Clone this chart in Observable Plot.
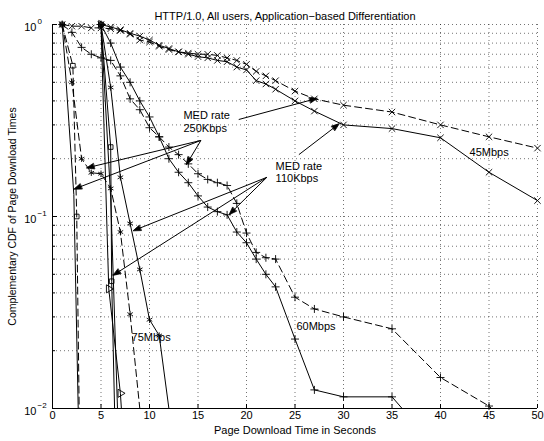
<!DOCTYPE html>
<html><head><meta charset="utf-8">
<script src="https://cdn.jsdelivr.net/npm/d3@7"></script>
<script src="https://cdn.jsdelivr.net/npm/@observablehq/plot@0.6"></script>
<style>html,body{margin:0;padding:0;background:#fff} svg{display:block}</style>
</head><body><div id="chart"></div>
<script>
const title = "HTTP/1.0, All users, Application\u2212based Differentiation";
const xLabel = "Page Download Time in Seconds";
const yLabel = "Complementary CDF of Page Download Times";
const xTicks = [0,5,10,15,20,25,30,35,40,45,50];
const yMajor = [1,0.1,0.01];
const yMajorExp = ["0","\u22121","\u22122"];
const yMinor = [0.02,0.03,0.04,0.05,0.06,0.07,0.08,0.09,0.2,0.3,0.4,0.5,0.6,0.7,0.8,0.9];

// 45 Mbps
const s45_110 = [[5,1],[6,0.97],[7,0.94],[8,0.90],[9,0.87],[10,0.83],[11,0.78],[12,0.75],[13,0.72],[14,0.70],[15,0.68],[16,0.67],[17,0.65],[18,0.64],[19,0.60],[20,0.58],[21,0.51],[22,0.49],[23,0.46],[25,0.40],[27,0.354],[30,0.30],[35,0.287],[40,0.257],[45,0.17],[50,0.121]];
const s45_250 = [[1,1],[2,0.98],[3,0.98],[4,0.96],[5,0.96],[6,0.95],[7,0.93],[8,0.89],[9,0.83],[10,0.81],[11,0.77],[12,0.74],[13,0.72],[14,0.71],[15,0.70],[16,0.70],[17,0.69],[18,0.67],[19,0.65],[20,0.62],[21,0.57],[22,0.54],[23,0.51],[25,0.45],[27,0.41],[30,0.38],[35,0.35],[40,0.30],[45,0.26],[50,0.227]];
// 60 Mbps
const s60_110 = [[5,1],[6,0.8],[7,0.6],[8,0.5],[9,0.4],[10,0.33],[11,0.26],[12,0.2],[13,0.17],[14,0.15],[15,0.128],[16,0.112],[17,0.106],[18,0.102],[19,0.083],[20,0.073],[21,0.06],[22,0.05],[23,0.043],[25,0.023],[27,0.0125],[30,0.0115],[35,0.0115],[37,0.0088]];
const s60_250 = [[1,1],[2,0.91],[3,0.76],[4,0.70],[5,0.67],[6,0.65],[7,0.54],[8,0.41],[9,0.36],[10,0.29],[11,0.26],[12,0.23],[13,0.21],[14,0.188],[15,0.167],[16,0.156],[17,0.15],[18,0.145],[19,0.117],[20,0.082],[21,0.065],[22,0.061],[23,0.06],[25,0.038],[27,0.033],[30,0.03],[35,0.026],[40,0.0145],[45,0.0103],[46,0.0092]];
// 75 Mbps
const s75_110 = [[5,1],[6,0.47],[7,0.16],[8,0.092],[9,0.053],[10,0.029],[11,0.024],[12,0.01]];
const s75_250 = [[1,1],[2,0.5],[3,0.2],[4,0.169],[5,0.167],[6,0.14],[7,0.083],[8,0.031],[9,0.01]];
// fastest links
const sA_110 = [[5,1],[6,0.23],[6.1,0.046],[6.4,0.01]];
const sB_110 = [[5,1],[5.8,0.042],[7,0.012],[7.1,0.01]];
const sC_110 = [[5,1],[6,0.125],[6.7,0.01]];
const sA_250 = [[1,1],[2.2,0.13],[2.65,0.01]];
const sB_250 = [[1,1],[2.1,0.61],[2.5,0.1],[2.75,0.01]];

const series = [
  {id:"45s", data:s45_110, dashed:false, symbol:"times"},
  {id:"45d", data:s45_250, dashed:true,  symbol:"times"},
  {id:"60s", data:s60_110, dashed:false, symbol:"plus"},
  {id:"60d", data:s60_250, dashed:true,  symbol:"plus"},
  {id:"75s", data:s75_110, dashed:false, symbol:"asterisk"},
  {id:"75d", data:s75_250, dashed:true,  symbol:"asterisk"},
  {id:"As",  data:sA_110,  dashed:false, symbol:"square"},
  {id:"Bs",  data:sB_110,  dashed:false, symbol:"triangle"},
  {id:"Cs",  data:sC_110,  dashed:false, symbol:null},
  {id:"Ad",  data:sA_250,  dashed:false, symbol:null},
  {id:"Bd",  data:sB_250,  dashed:true,  symbol:"square"}
];
const rows = series.flatMap(s => s.data.map(([x,y]) => ({id:s.id, x, y, dashed:s.dashed, symbol:s.symbol})));

// annotations
const labels = [
  {text:"MED rate", x:13.5, y:0.336},
  {text:"250Kbps",  x:13.5, y:0.287},
  {text:"MED rate", x:23.0, y:0.182},
  {text:"110Kbps",  x:23.0, y:0.157},
  {text:"45Mbps",   x:43.0, y:0.216},
  {text:"60Mbps",   x:25.15,y:0.0267},
  {text:"75Mbps",   x:8.15, y:0.0234}
];
const arrows = [
  {x1:15.3, y1:0.249, x2:3.7,  y2:0.18},
  {x1:15.3, y1:0.249, x2:2.4,  y2:0.14},
  {x1:15.3, y1:0.249, x2:13.9, y2:0.19},
  {x1:19.2, y1:0.32,  x2:27.1, y2:0.41},
  {x1:22.1, y1:0.16,  x2:18.35,y2:0.104},
  {x1:22.1, y1:0.16,  x2:8.5,  y2:0.085},
  {x1:22.1, y1:0.16,  x2:6.4,  y2:0.05},
  {x1:25.4, y1:0.21,  x2:29.4, y2:0.30}
];

const plotW = 544 - 52 - 7;
const symR = {times:3, plus:2.7, asterisk:3, square:2.6, triangle:3};
const dotMarks = Object.keys(symR).map(sym => Plot.dot(rows.filter(r => r.symbol === sym && r.y > 0.0101), {
  x:"x", y:"y", symbol:sym, r:symR[sym], stroke:"black", fill:"none", strokeWidth:0.9,
  rotate: sym === "triangle" ? 90 : 0
}));

const chart = Plot.plot({
  width:544, height:441,
  marginLeft:52, marginRight:7, marginTop:24, marginBottom:33,
  style:{fontFamily:"'Liberation Sans', Arial, Helvetica, sans-serif", fontSize:"11px", background:"#fff", color:"#000"},
  x:{domain:[0,50]},
  y:{type:"log", domain:[0.01,1], axis:null},
  marks:[
    Plot.gridX(xTicks, {stroke:"#000", strokeOpacity:0.55, strokeDasharray:"1,3"}),
    Plot.gridY(yMajor.concat(yMinor), {stroke:"#000", strokeOpacity:0.55, strokeDasharray:"1,3"}),
    Plot.line(rows.filter(r => !r.dashed), {x:"x", y:"y", z:"id", stroke:"black", strokeWidth:1, clip:true}),
    Plot.line(rows.filter(r => r.dashed), {x:"x", y:"y", z:"id", stroke:"black", strokeWidth:1, strokeDasharray:"7,4", clip:true}),
    ...dotMarks,
    Plot.link(arrows, {x1:"x1", y1:"y1", x2:"x2", y2:"y2", stroke:"black", strokeWidth:1, markerEnd:"arrow"}),
    Plot.text(labels, {x:"x", y:"y", text:"text", textAnchor:"start", fontSize:11}),
    Plot.ruleX([0], {stroke:"black"}),
    Plot.ruleY([0.01], {stroke:"black"}),
    Plot.tickX(xTicks, {x:d=>d, stroke:"black", insetTop:441-24-33-4}),
    Plot.tickY(yMajor, {y:d=>d, stroke:"black", insetRight:plotW-5}),
    Plot.tickY(yMinor, {y:d=>d, stroke:"black", insetRight:plotW-3}),
    Plot.axisX({ticks:xTicks, tickSize:0, tickPadding:3, label:null, fontSize:11}),
    Plot.text(yMajor, {y:d=>d, frameAnchor:"left", text:()=>"10", dx:-16, dy:3, textAnchor:"end", fontSize:11}),
    Plot.text(yMajor, {y:d=>d, frameAnchor:"left", text:(d,i)=>yMajorExp[i], dx:-15, dy:-3, textAnchor:"start", fontSize:8}),
    Plot.text([title], {frameAnchor:"top", dx:-10, dy:-12, fontSize:11}),
    Plot.text([xLabel], {frameAnchor:"bottom", dy:25, fontSize:11}),
    Plot.text([yLabel], {frameAnchor:"left", dx:-40, rotate:-90, textAnchor:"middle", fontSize:10.5})
  ]
});
document.getElementById("chart").appendChild(chart);
// filled arrowheads
chart.querySelectorAll("marker").forEach(m => {
  m.setAttribute("markerWidth", 14);
  m.setAttribute("markerHeight", 14);
  m.querySelectorAll("path").forEach(p => {
    p.setAttribute("d", "M-4,-2L1.5,0L-4,2Z");
    p.setAttribute("fill", "black");
    p.setAttribute("stroke-width", "0.5");
  });
});
</script></body></html>
